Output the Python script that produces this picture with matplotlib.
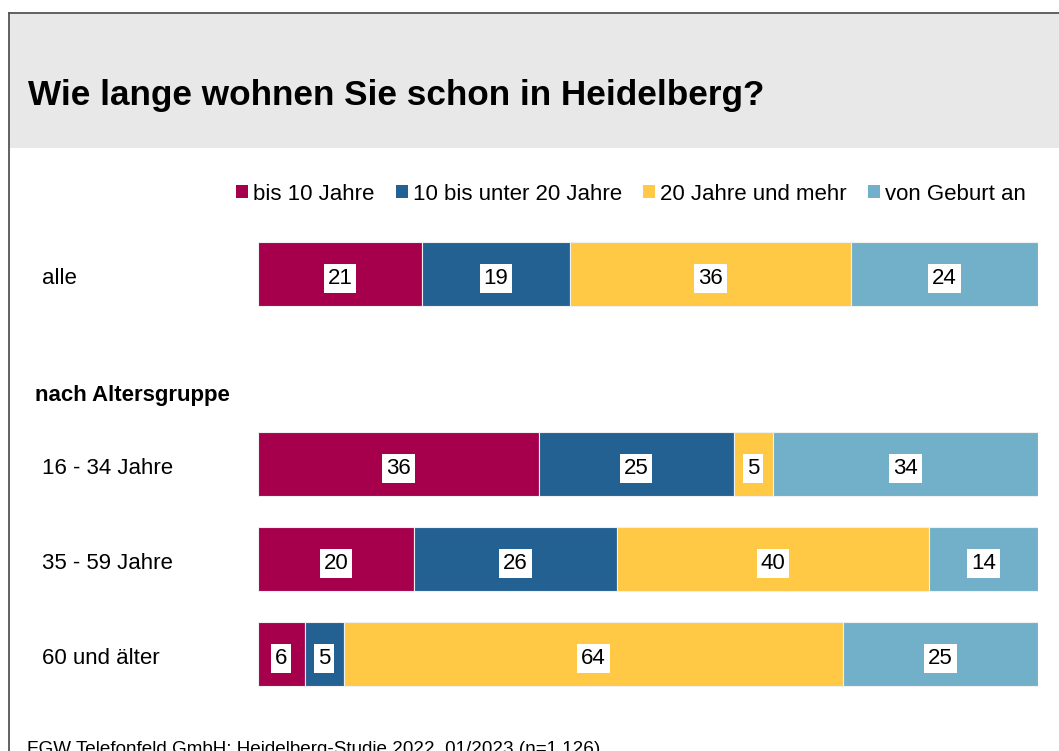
import matplotlib.pyplot as plt
from matplotlib.patches import Patch, Rectangle
from matplotlib.lines import Line2D
import matplotlib.transforms as mtrans

plt.rcParams['font.family'] = ['Liberation Sans', 'DejaVu Sans']

#Data
groups = ['alle', '16 - 34 Jahre', '35 - 59 Jahre', '60 und älter']
rows = [0, 2, 3, 4]
series = ['bis 10 Jahre', '10 bis unter 20 Jahre', '20 Jahre und mehr', 'von Geburt an']
bis10 = [21, 36, 20, 6]
bis20 = [19, 25, 26, 5]
mehr20 = [36, 5, 40, 64]
geburt = [24, 34, 14, 25]
colors = ['#A6004C', '#236192', '#FFC845', '#71B0C8']

W, H = 1059, 751
fig = plt.figure(figsize=(W / 100, H / 100), dpi=100)

def fx(px):
	return px / W

def fy(py):
	return 1 - py / H

#Frame and title band
fig.patches.append(Rectangle((fx(9), fy(148)), 1.0, fy(13) - fy(148), transform=fig.transFigure,
	facecolor='#E8E8E8', edgecolor='none', zorder=0))
fig.lines.append(Line2D([fx(9), fx(9)], [fy(13), -0.1], transform=fig.transFigure, color='#555555', lw=1.3))
fig.lines.append(Line2D([fx(9), 1.1], [fy(13), fy(13)], transform=fig.transFigure, color='#555555', lw=1.3))

fig.text(fx(28), fy(92), 'Wie lange wohnen Sie schon in Heidelberg?', fontsize=25.3, fontweight='bold',
	ha='left', va='center_baseline')

#Bars
ax = fig.add_axes([fx(258), fy(701.5), fx(1038) - fx(258), fy(226.5) - fy(701.5)])
ax.set_xlim(0, 100)
ax.set_ylim(4.5, -0.5)
ax.axis('off')

left = [0] * len(rows)
for vals, col, name in zip([bis10, bis20, mehr20, geburt], colors, series):
	ax.barh(rows, vals, left=left, height=0.67, color=col, edgecolor='#f0f0f0', linewidth=0.8, label=name)
	for r, v, l in zip(rows, vals, left):
		ax.text(l + v / 2, r + 0.02, str(v), ha='center', va='center_baseline', fontsize=16,
			bbox=dict(boxstyle='square,pad=0.17', facecolor='white', edgecolor='none'))
	left = [a + b for a, b in zip(left, vals)]

#Row labels
trans = mtrans.blended_transform_factory(fig.transFigure, ax.transData)
for r, g in zip(rows, groups):
	ax.text(fx(42), r + 0.02, g, transform=trans, fontsize=16, ha='left', va='center_baseline')
ax.text(fx(35), 1.25, 'nach Altersgruppe', transform=trans, fontsize=16, fontweight='bold',
	ha='left', va='center_baseline')

#Legend
handles = [Patch(facecolor=c, edgecolor='none') for c in colors]
fig.legend(handles, series, loc='center right', bbox_to_anchor=(fx(1026), fy(194)), ncol=4,
	frameon=False, fontsize=16, handlelength=0.55, handleheight=0.55, handletextpad=0.22,
	columnspacing=0.95, borderpad=0, borderaxespad=0)

#Footer
fig.text(fx(27), fy(748), 'FGW Telefonfeld GmbH: Heidelberg-Studie 2022, 01/2023 (n=1.126)',
	fontsize=13.6, ha='left', va='center_baseline')

fig.savefig('out.png', dpi=100)
